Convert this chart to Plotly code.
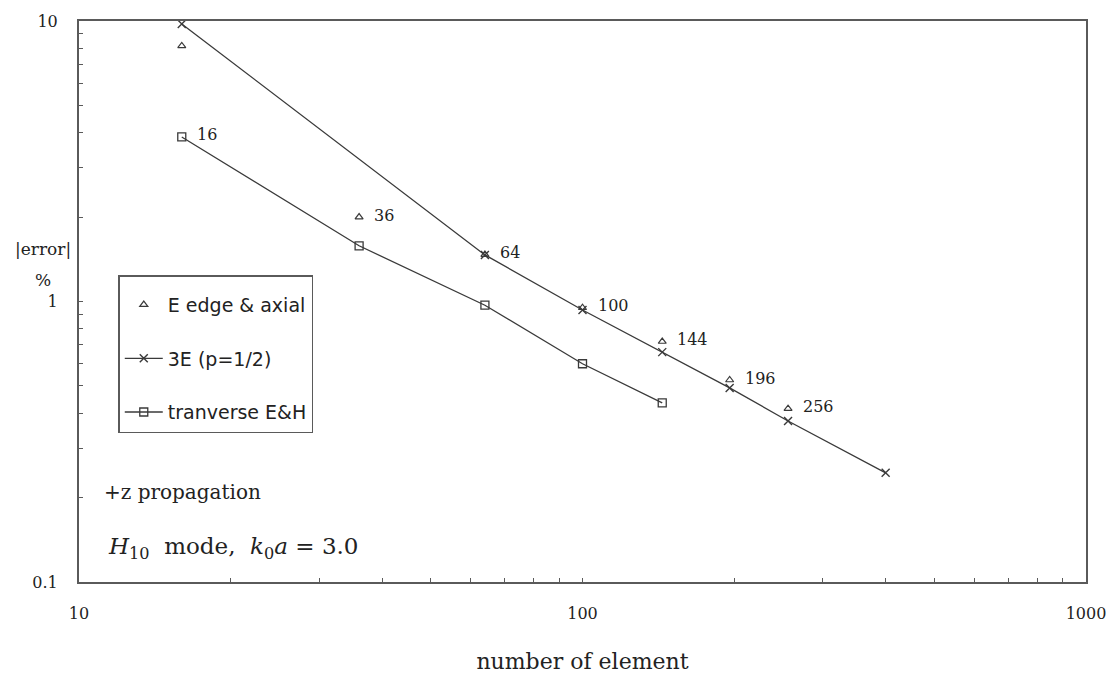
import numpy as np
import plotly.graph_objects as go

# ---- data ----
edge_x = [16, 36, 64, 100, 144, 196, 256]
edge_y = [8.15, 2.0, 1.47, 0.95, 0.72, 0.525, 0.415]

e3_x = [16, 64, 100, 144, 196, 256, 400]
e3_y = [9.76, 1.466, 0.933, 0.66, 0.492, 0.375, 0.245]

tr_x = [16, 36, 64, 100, 144]
tr_y = [3.86, 1.58, 0.97, 0.60, 0.435]

label_x = [16, 36, 64, 100, 144, 196, 256]
label_y = [3.86, 2.0, 1.47, 0.95, 0.72, 0.525, 0.415]
label_text = ["16", "36", "64", "100", "144", "196", "256"]

x_tickvals = [10, 20, 30, 40, 50, 60, 70, 80, 90, 100, 200, 300, 400, 500, 600, 700, 800, 900, 1000]
x_ticktext = ["10"] + [""] * 8 + ["100"] + [""] * 8 + ["1000"]
y_tickvals = [0.1, 0.2, 0.3, 0.4, 0.5, 0.6, 0.7, 0.8, 0.9, 1, 2, 3, 4, 5, 6, 7, 8, 9, 10]
y_ticktext = ["0.1"] + [""] * 8 + ["1"] + [""] * 8 + ["10"]

LINE = "#3a3a3a"
TXT = "#222222"
SERIF = "DejaVu Serif, serif"
SANS = "DejaVu Sans, sans-serif"

fig = go.Figure()
fig.add_trace(go.Scatter(
    x=edge_x, y=edge_y, mode="markers", name="E edge & axial",
    legendgroup="a",
    marker=dict(symbol="triangle-up-open", size=7, color=LINE, line=dict(width=1.2)),
))
fig.add_trace(go.Scatter(
    x=e3_x, y=e3_y, mode="lines+markers", name="3E (p=1/2)",
    legendgroup="b",
    line=dict(color=LINE, width=1.3),
    marker=dict(symbol="x-thin-open", size=8, color=LINE, line=dict(width=1.4, color=LINE)),
))
fig.add_trace(go.Scatter(
    x=tr_x, y=tr_y, mode="lines+markers", name="tranverse E&H",
    legendgroup="c",
    line=dict(color=LINE, width=1.3),
    marker=dict(symbol="square-open", size=8, color=LINE, line=dict(width=1.3)),
))

# point labels (annotations on log axes take log10 coordinates)
for xv, yv, t in zip(label_x, label_y, label_text):
    fig.add_annotation(x=np.log10(xv), y=np.log10(yv), xref="x", yref="y", text=t,
                       showarrow=False, xanchor="left", yanchor="middle",
                       xshift=13, yshift=2,
                       font=dict(family=SERIF, size=16, color=TXT))

fig.add_annotation(xref="paper", yref="paper", x=0.023, y=0.160, text="+z propagation",
                   showarrow=False, xanchor="left", yanchor="middle",
                   font=dict(family=SERIF, size=20, color=TXT))
fig.add_annotation(xref="paper", yref="paper", x=0.027, y=0.060,
                   text="<i>H</i><sub>10</sub>  mode,  <i>k</i><sub>0</sub><i>a</i> = 3.0",
                   showarrow=False, xanchor="left", yanchor="middle",
                   font=dict(family=SERIF, size=23, color=TXT))

fig.add_annotation(xref="paper", yref="paper", x=-0.036, y=0.594, text="|error|",
                   showarrow=False, xanchor="center", yanchor="middle",
                   font=dict(family=SERIF, size=17, color=TXT))
fig.add_annotation(xref="paper", yref="paper", x=-0.036, y=0.538, text="%",
                   showarrow=False, xanchor="center", yanchor="middle",
                   font=dict(family=SERIF, size=17, color=TXT))

axis_common = dict(
    showgrid=False, zeroline=False, showline=True, mirror=True, automargin=False,
    linecolor="#5a5a5a", linewidth=2, ticks="inside", ticklen=4, tickwidth=1,
    tickcolor="#5a5a5a", tickfont=dict(family=SERIF, size=16, color=TXT),
)

fig.update_xaxes(type="log", range=[1, 3], tickmode="array", tickvals=x_tickvals,
                 ticktext=x_ticktext, ticklabelstandoff=16,
                 title=dict(text="number of element", standoff=34,
                            font=dict(family=SERIF, size=22, color=TXT)),
                 **axis_common)
fig.update_yaxes(type="log", range=[-1, 1], tickmode="array", tickvals=y_tickvals,
                 ticktext=y_ticktext, ticklabelstandoff=16, **axis_common)

fig.update_layout(
    width=1117, height=674,
    margin=dict(l=79, r=31, t=21, b=92),
    paper_bgcolor="white", plot_bgcolor="white",
    showlegend=True,
    legend=dict(
        x=0.039, y=0.547, xanchor="left", yanchor="top",
        bgcolor="white", bordercolor="#5a5a5a", borderwidth=1.5,
        font=dict(family=SANS, size=19, color=TXT),
        title=dict(text="&nbsp;", font=dict(size=7)),
        traceorder="grouped", tracegroupgap=26, itemwidth=38,
    ),
)

fig.write_html("out.html")
